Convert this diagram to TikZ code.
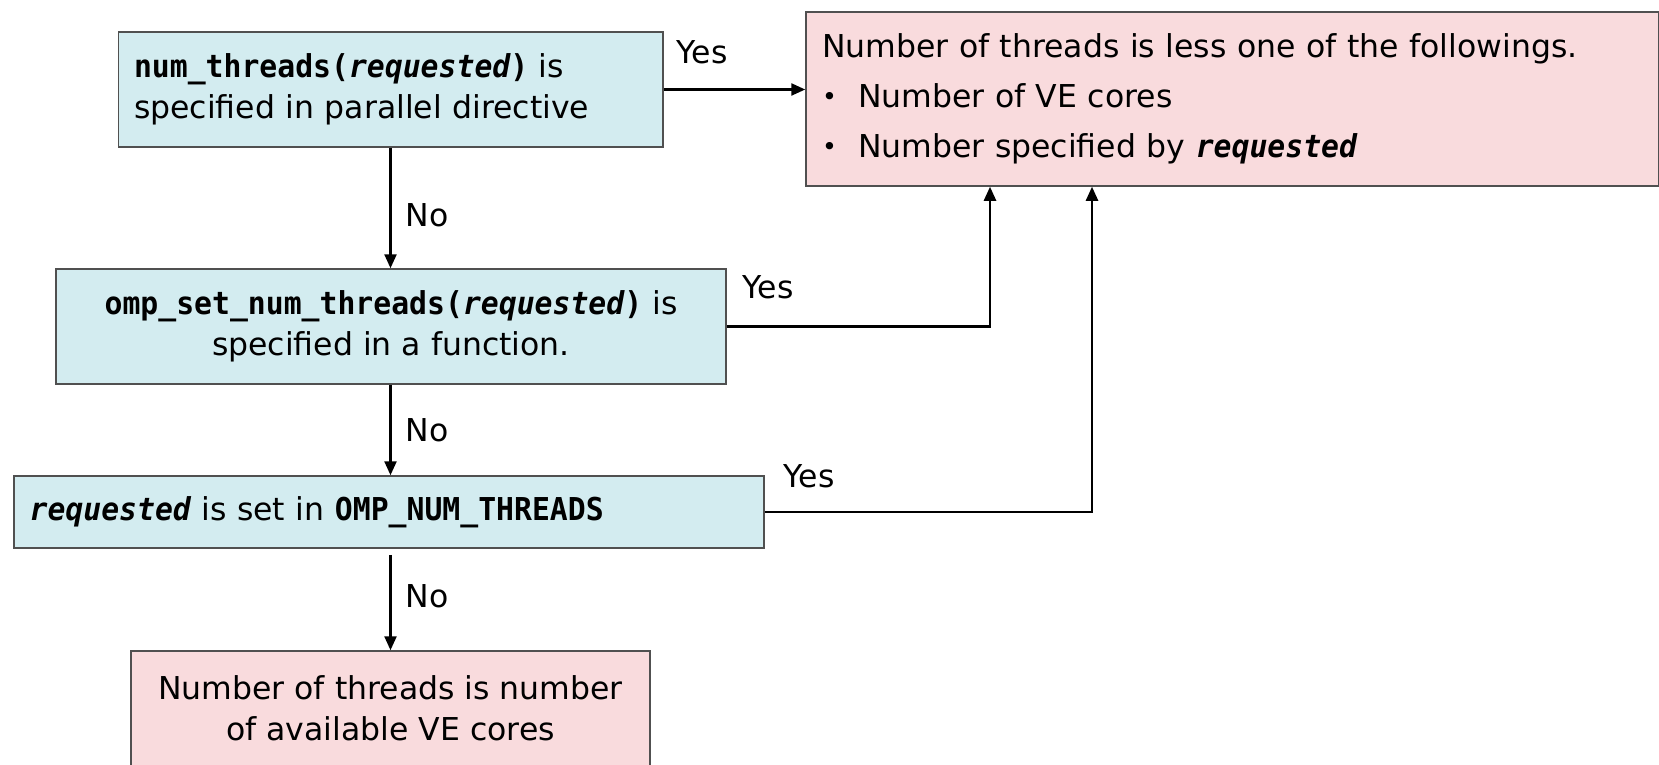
\documentclass[tikz,border=0pt]{standalone}
\usepackage{fontspec}
\setmainfont{DejaVu Sans}
\newfontfamily\codefont[FakeStretch=0.945]{DejaVu Sans Mono}
\usetikzlibrary{arrows.meta}
\definecolor{qfill}{RGB}{211,236,240}
\definecolor{afill}{RGB}{249,219,221}
\definecolor{edge}{RGB}{80,80,80}
\newcommand{\cd}[1]{{\codefont\bfseries #1}}
\newcommand{\req}{{\codefont\bfseries\itshape requested}}
\newcommand{\bul}{\makebox[18pt][l]{\raisebox{1pt}{\scalebox{0.8}{•}}}}
\begin{document}
\begin{tikzpicture}[x=0.5pt, y=-0.5pt,
  txt/.style={font=\fontsize{15.75pt}{20.5pt}\selectfont},
  box/.style={txt, draw=edge, line width=0.75pt, inner sep=0pt},
  qbox/.style={box, fill=qfill},
  abox/.style={box, fill=afill},
  flow/.style={line width=1.2pt, -{Triangle[length=7pt,width=6pt]}},
  lbl/.style={txt, inner sep=0pt}]
  \fill[white] (0,0) rectangle (1659,765);
  \useasboundingbox (0,0) rectangle (1659,765);

  % decision boxes
  \node[qbox, minimum width=272.25pt, minimum height=57.5pt, text width=256.75pt, align=left]
    (q1) at (390.75,89.5) {\cd{num\_threads(}\req\cd{)} is\\ specified in parallel directive};
  \node[qbox, minimum width=335pt, minimum height=57.5pt, align=center]
    (q2) at (391,326.5) {\cd{omp\_set\_num\_threads(}\req\cd{)} is\\ specified in a function.};
  \node[qbox, minimum width=375pt, minimum height=36pt, text width=359.4pt, align=left]
    (q3) at (389,512) {\req{} is set in \cd{OMP\_NUM\_THREADS}};

  % outcome boxes
  \node[abox, minimum width=426.25pt, minimum height=87pt, text width=410.25pt, align=left]
    (a1) at (1232.25,99) {Number of threads is less one of the followings.\\[4.5pt]
      \bul Number of VE cores\\[4.5pt]
      \bul Number specified by \req};
  \node[abox, minimum width=259.5pt, minimum height=57.5pt, align=center]
    (a2) at (390.5,708.5) {Number of threads is number\\ of available VE cores};

  % routing columns for the "Yes" branches and the "No" spine
  \coordinate (spine) at (390.5,0);
  \coordinate (j2) at (990,0);
  \coordinate (j3) at (1092,0);

  % connectors
  \draw[flow] (q1.east) -- (a1.west |- q1.east);
  \draw[flow] (spine |- q1.south) -- (spine |- q2.north);
  \draw[flow] (q2.east) -| (j2 |- a1.south);
  \draw[flow] (spine |- q2.south) -- (spine |- q3.north);
  \draw[flow] (q3.east) -| (j3 |- a1.south);
  \draw[flow, shorten <=3pt] (spine |- q3.south) -- (spine |- a2.north);

  % branch labels
  \node[lbl] (y1) at (702,52) {Yes};
  \node[lbl] (n1) at (427,215) {No};
  \node[lbl] (y2) at (768,287) {Yes};
  \node[lbl] (n2) at (427,430) {No};
  \node[lbl] (y3) at (809,476) {Yes};
  \node[lbl] (n3) at (427,596) {No};
\end{tikzpicture}
\end{document}
